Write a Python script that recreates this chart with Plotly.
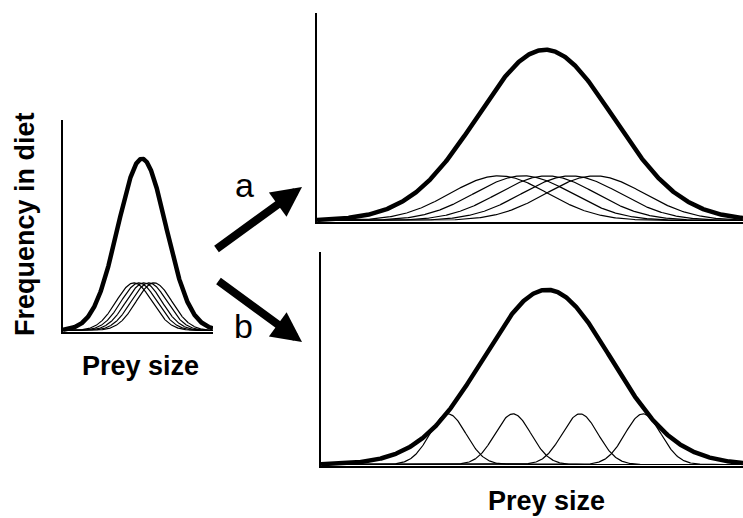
import numpy as np
import plotly.graph_objects as go

# ---- data (arbitrary "prey size" / "frequency" units) ----
# Left panel: population niche and individual niches
left_pop_mean, left_pop_sd, left_pop_height = 79, 24, 173
left_ind_means = [71, 76, 81, 86, 91]
left_ind_sd, left_ind_height = 18, 48

# Top-right panel (a): wider population niche, wide individual niches
a_pop_mean, a_pop_sd, a_pop_height = 228, 68, 172
a_ind_means = [182, 206, 230, 254, 278]
a_ind_sd, a_ind_height = 49, 45

# Bottom-right panel (b): wider population niche, specialised individuals
b_pop_mean, b_pop_sd, b_pop_height = 226, 64, 176
b_ind_means = [127, 192, 259, 322]
b_ind_sd, b_ind_height = 18, 51

W, H = 743, 518


def gauss(x, m, s, h):
    return h * np.exp(-0.5 * ((x - m) / s) ** 2)


fig = go.Figure()

panels = [
    ("x", "y", 150, 212, (left_pop_mean, left_pop_sd, left_pop_height),
     (left_ind_means, left_ind_sd, left_ind_height), (63, 213), (120, 332)),
    ("x2", "y2", 426, 209, (a_pop_mean, a_pop_sd, a_pop_height),
     (a_ind_means, a_ind_sd, a_ind_height), (317, 743), (13, 222)),
    ("x3", "y3", 422, 214, (b_pop_mean, b_pop_sd, b_pop_height),
     (b_ind_means, b_ind_sd, b_ind_height), (321, 743), (252, 466)),
]

layout_axes = {}
for i, (xa, ya, xmax, ymax, pop, ind, xd, yd) in enumerate(panels):
    xs = np.linspace(0, xmax, 600)
    means, sd, hh = ind
    for m in means:
        fig.add_trace(go.Scatter(x=xs, y=gauss(xs, m, sd, hh), mode="lines",
                                 line=dict(color="black", width=1.2),
                                 xaxis=xa, yaxis=ya, hoverinfo="skip"))
    fig.add_trace(go.Scatter(x=xs, y=gauss(xs, *pop), mode="lines",
                             line=dict(color="black", width=4.5),
                             xaxis=xa, yaxis=ya, hoverinfo="skip"))
    suffix = "" if i == 0 else str(i + 1)
    layout_axes["xaxis" + suffix] = dict(
        domain=[xd[0] / W, xd[1] / W], range=[0, xmax], showline=True,
        linecolor="black", linewidth=2, showgrid=False, zeroline=False,
        showticklabels=False, ticks="", anchor=ya, fixedrange=True)
    layout_axes["yaxis" + suffix] = dict(
        domain=[1 - yd[1] / H, 1 - yd[0] / H], range=[-1.5, ymax], showline=True,
        linecolor="black", linewidth=2, showgrid=False, zeroline=False,
        showticklabels=False, ticks="", anchor=xa, fixedrange=True)

fig.update_layout(
    width=W, height=H, margin=dict(l=0, r=0, t=0, b=0),
    paper_bgcolor="white", plot_bgcolor="white", showlegend=False,
    font=dict(family="Liberation Sans, Arial, sans-serif", color="black"),
    **layout_axes,
)

label_font = dict(family="Liberation Sans, Arial, sans-serif", size=27, color="black")
fig.add_annotation(x=25 / W, y=1 - 224 / H, xref="paper", yref="paper",
                   text="<b>Frequency in diet</b>", textangle=-90, showarrow=False,
                   font=label_font, xanchor="center", yanchor="middle")
fig.add_annotation(x=140 / W, y=1 - 366 / H, xref="paper", yref="paper",
                   text="<b>Prey size</b>", showarrow=False, font=label_font,
                   xanchor="center", yanchor="middle")
fig.add_annotation(x=546 / W, y=1 - 501 / H, xref="paper", yref="paper",
                   text="<b>Prey size</b>", showarrow=False, font=label_font,
                   xanchor="center", yanchor="middle")

letter_font = dict(family="Liberation Sans, Arial, sans-serif", size=34, color="black")
fig.add_annotation(x=245 / W, y=1 - 185 / H, xref="paper", yref="paper",
                   text="a", showarrow=False, font=letter_font,
                   xanchor="center", yanchor="middle")
fig.add_annotation(x=243 / W, y=1 - 326 / H, xref="paper", yref="paper",
                   text="b", showarrow=False, font=letter_font,
                   xanchor="center", yanchor="middle")

# arrows
for tip, start in [((302, 187), (215, 250)), ((302, 342), (217, 280))]:
    fig.add_annotation(x=tip[0] / W, y=1 - tip[1] / H, xref="paper", yref="paper",
                       ax=start[0] - tip[0], ay=start[1] - tip[1],
                       showarrow=True, arrowhead=2, arrowwidth=8, arrowsize=0.75,
                       arrowcolor="black", text="")

fig.write_html("out.html", config={"displayModeBar": False},
               post_script="document.body.style.margin='0';document.body.style.overflow='hidden';")
